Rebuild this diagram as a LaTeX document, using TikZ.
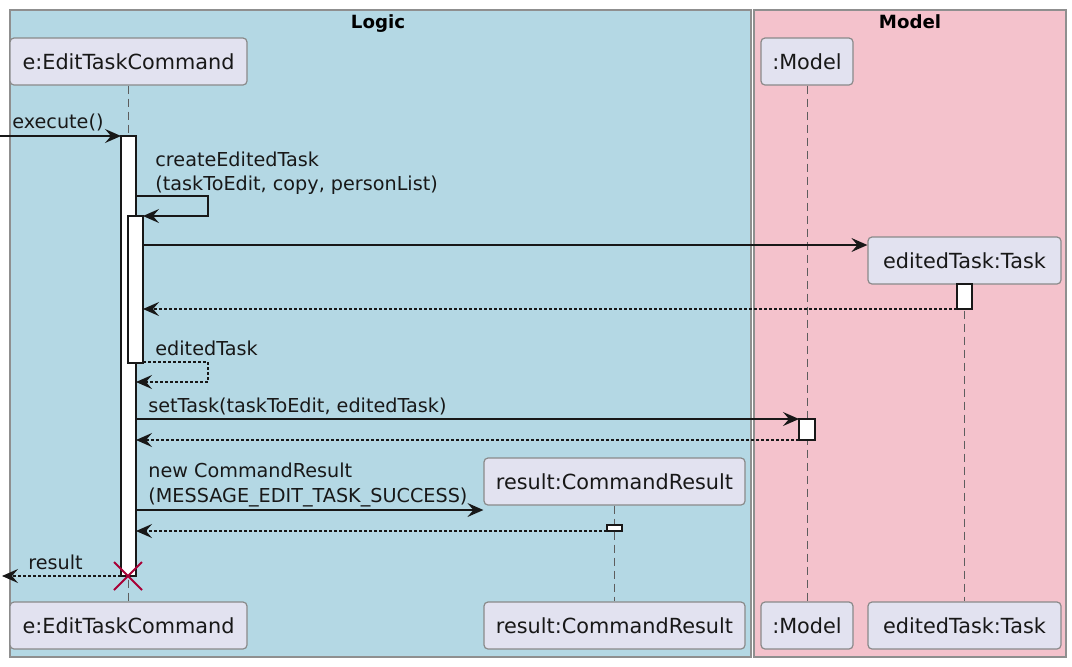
\documentclass[tikz,border=0pt]{standalone}
\usepackage{fontspec}
\setmainfont{DejaVu Sans}
\usetikzlibrary{arrows.meta,calc}
\definecolor{logicbg}{HTML}{B4D8E4}
\definecolor{modelbg}{HTML}{F4C2CC}
\definecolor{partfill}{HTML}{E2E2F0}
\definecolor{partdraw}{HTML}{8A8A8A}
\definecolor{ink}{HTML}{181818}
\definecolor{framedraw}{HTML}{8F8F8F}
\definecolor{destroyc}{HTML}{A80036}
\tikzset{
  part/.style={draw=partdraw, fill=partfill, rounded corners=2pt, line width=0.6pt,
    minimum height=23.5pt, inner sep=0pt, text=ink, font=\fontsize{10.4}{12}\selectfont},
  msgtext/.style={anchor=base west, inner sep=0pt, text=ink, font=\fontsize{9.6}{11}\selectfont},
  frametitle/.style={anchor=base, inner sep=0pt, text=black, font=\bfseries\fontsize{9.1}{11}\selectfont},
  life/.style={draw=ink!70, line width=0.5pt, dash pattern=on 4pt off 2.5pt},
  act/.style={draw=ink, fill=white, line width=0.6pt},
  msg/.style={draw=ink, line width=0.7pt, -{Stealth[length=8pt,width=7pt,inset=3pt]}},
  ret/.style={msg, dash pattern=on 1.5pt off 1pt},
  framebox/.style={draw=framedraw, line width=0.6pt},
}
\begin{document}
\begin{tikzpicture}[x=0.5pt,y=-0.5pt]
\useasboundingbox (0,0) rectangle (1072,666);
\fill[white] (0,0) rectangle (1072,666);
% frames
\draw[framebox, fill=logicbg] (10,10) rectangle (751,657);
\draw[framebox, fill=modelbg] (754,10) rectangle (1066,657);
\node[frametitle] (tlogic) at (378,28) {Logic};
\node[frametitle] (tmodel) at (910,28) {Model};
% participants
\node[part, minimum width=118.5pt] (eTop) at (128.5,61.5) {e:EditTaskCommand};
\node[part, minimum width=118.5pt] (eBot) at (128.5,625.5) {e:EditTaskCommand};
\node[part, minimum width=46pt] (mTop) at (807,61.5) {:Model};
\node[part, minimum width=46pt] (mBot) at (807,625.5) {:Model};
\node[part, minimum width=96.5pt] (tTop) at (964.5,260.5) {editedTask:Task};
\node[part, minimum width=96.5pt] (tBot) at (964.5,625.5) {editedTask:Task};
\node[part, minimum width=130.5pt] (rTop) at (614.5,481.5) {result:CommandResult};
\node[part, minimum width=130.5pt] (rBot) at (614.5,625.5) {result:CommandResult};
% lifelines
\draw[life] (eTop.south) -- (eBot.north);
\draw[life] (mTop.south) -- (mBot.north);
\draw[life] (tTop.south) -- (tBot.north);
\draw[life] (rTop.south) -- (rBot.north);
% activations
\draw[act] (121,136) rectangle (136,576);
\draw[act] (128,216) rectangle (143,363);
\draw[act] (957,284) rectangle (972,309);
\draw[act] (799,419) rectangle (815,440);
\draw[act] (607,525) rectangle (622,531);
% coordinates
\coordinate (inL) at (0,136);
\coordinate (eA) at (121,136);
\coordinate (s1a) at (136,196);
\coordinate (s1b) at (208,196);
\coordinate (s1c) at (208,216);
\coordinate (s1d) at (143,216);
\coordinate (cr1) at (143,245);
\coordinate (cr2) at (957,309);
\coordinate (cr3) at (143,309);
\coordinate (s2a) at (143,362);
\coordinate (s2b) at (208,362);
\coordinate (s2c) at (208,382);
\coordinate (s2d) at (136,382);
\coordinate (st1) at (136,419);
\coordinate (st2) at (799,419);
\coordinate (st3) at (799,440);
\coordinate (st4) at (136,440);
\coordinate (nc1) at (136,510);
\coordinate (nc3) at (607,531);
\coordinate (nc4) at (136,531);
\coordinate (rs1) at (121,576);
\coordinate (rs2) at (2,576);
\coordinate (xx) at (128,576);
% messages
\draw[msg] (inL) -- (eA);
\node[msgtext] (lexec) at (12,128) {execute()};
\draw[msg] (s1a) -- (s1b) -- (s1c) -- (s1d);
\node[msgtext] (lcet1) at (155,166) {createEditedTask};
\node[msgtext] (lcet2) at (155,190) {(taskToEdit, copy, personList)};
\draw[msg] (cr1) -- (tTop.west |- cr1);
\draw[ret] (cr2) -- (cr3);
\draw[ret] (s2a) -- (s2b) -- (s2c) -- (s2d);
\node[msgtext] (let) at (155,355) {editedTask};
\draw[msg] (st1) -- (st2);
\node[msgtext] (lst) at (148,412) {setTask(taskToEdit, editedTask)};
\draw[ret] (st3) -- (st4);
\draw[msg] (nc1) -- (rTop.west |- nc1);
\node[msgtext] (lnc1) at (148,477) {new CommandResult};
\node[msgtext] (lnc2) at (148,502) {(MESSAGE\_EDIT\_TASK\_SUCCESS)};
\draw[ret] (nc3) -- (nc4);
\draw[ret] (rs1) -- (rs2);
\node[msgtext] (lres) at (28,569) {result};
% destroy
\draw[destroyc, line width=1pt] ($(xx)+(-14,-14)$) -- ($(xx)+(14,14)$) ($(xx)+(-14,14)$) -- ($(xx)+(14,-14)$);
\end{tikzpicture}
\end{document}
